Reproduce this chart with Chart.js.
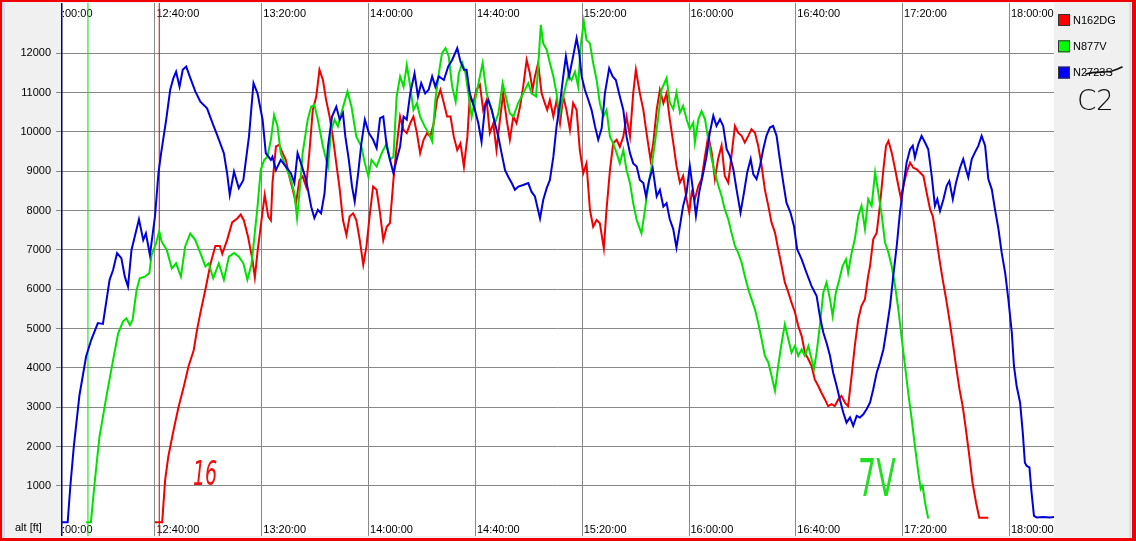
<!DOCTYPE html>
<html>
<head>
<meta charset="utf-8">
<script src="https://cdn.jsdelivr.net/npm/chart.js@4"></script>
<style>
  html, body { margin: 0; padding: 0; background: #f0f0f0; }
  #wrap { width: 1136px; height: 541px; }
</style>
</head>
<body>
<div id="wrap"><canvas id="altChart" width="1136" height="541"></canvas></div>
<script>
// ===== DATA (time = minutes after 12:00:00, alt in ft) =====
const seriesNames = ["N162DG", "N877V", "N2723S"];
const seriesColors = ["rgb(240,0,0)", "rgb(0,225,0)", "rgb(0,0,220)"];
const legendColors = ["#ff0000", "#00ff00", "#0000ff"];

const xTickMinutes = [0, 40, 80, 120, 160, 200, 240, 280, 320, 360];
const xTickLabels = ["12:00:00", "12:40:00", "13:20:00", "14:00:00", "14:40:00", "15:20:00", "16:00:00", "16:40:00", "17:20:00", "18:00:00"];
const yTickValues = [1000, 2000, 3000, 4000, 5000, 6000, 7000, 8000, 9000, 10000, 11000, 12000];

// takeoff marker times: N162DG, N877V, N2723S
const takeoffTimes = [41.6, 14.9, 4.8];

const n162dg = [
  [40.0,80],[42.7,80],[43.8,1150],[45.0,1750],[46.9,2400],[48.8,3000],[50.7,3500],[52.6,4050],[54.5,4450],[55.7,4950],
  [57.0,5400],[58.9,6000],[60.8,6650],[62.6,7100],[64.3,7100],[65.2,6900],[67.0,7250],[68.9,7700],[70.8,7800],[72.1,7900],
  [73.3,7750],[74.8,7350],[76.5,6750],[77.4,6300],[78.4,6950],[79.6,7600],[81.1,8400],[82.4,7850],[83.4,7750],
  [84.0,8700],[85.3,9630],[86.5,9670],[87.8,9460],[89.0,9290],[90.3,8870],[91.6,8530],[92.8,8190],[94.1,8780],[95.3,8870],
  [96.6,8610],[97.8,9460],[99.1,10560],[100.4,10900],[101.6,11580],[102.9,11320],[104.1,10810],[105.4,10390],[106.6,9880],
  [107.9,9200],[109.2,8530],[110.4,7760],[111.7,7380],[112.9,7850],[114.2,7930],[115.4,7760],[116.7,7250],[118.0,6620],
  [119.2,7090],[120.5,7930],[121.7,8610],[123.0,8530],[124.3,7930],[125.5,7250],[126.8,7590],[128.0,7680],[129.3,8780],
  [130.5,9630],[131.8,10390],[133.1,10050],[134.3,9970],[135.6,10220],[136.8,10390],[138.1,9970],[139.3,9460],[140.6,9800],
  [141.9,9970],[143.1,9880],[144.4,10220],[145.6,10810],[146.9,11070],[148.2,10730],[149.4,10390],[150.7,10390],[151.9,9880],
  [153.2,9540],[154.4,9710],[155.7,9120],[157.0,9880],
  [157.9,10900],[159.2,10730],[160.4,11070],[161.7,11200],[162.9,10560],[164.2,10810],[165.4,9970],[166.7,10220],[167.9,9540],
  [169.2,10310],[170.4,10980],[171.7,10310],[172.9,9800],[174.2,10390],[175.4,10220],[176.7,10640],[177.9,11150],[179.2,11830],
  [180.4,11490],[181.4,11070],[182.3,11410],[183.5,11750],[184.8,10980],[186.0,10730],[186.9,10560],[187.9,10810],[189.2,10390],
  [190.4,10810],[191.7,10220],[192.9,10900],[194.1,10560],[195.4,10050],[196.6,10730],[197.9,10560],[199.1,9540],[200.4,8950],
  [201.6,9200],[202.9,8020],[204.1,7590],[205.4,7760],[206.6,7680],[208.1,7040],[209.1,8020],[210.4,9030],[211.6,9710],
  [212.9,9800],[214.1,9620],[215.4,9880],[216.6,10390],[217.9,9880],[219.1,10980],[220.1,11580],[221.6,10980],[222.9,10560],
  [224.1,9970],[225.6,9290],[226.6,9710],[227.9,10560],[229.1,11070],[230.4,10730],[231.6,10980],
  [232.8,10320],[234.1,9730],[235.3,9140],[236.6,8710],[237.8,8880],[239.1,8290],[240.1,7950],[241.0,8460],[242.2,8290],
  [243.5,8630],[244.7,8800],[246.0,9390],[247.2,9900],[248.5,9480],[249.7,8800],[250.9,9310],[252.2,9650],[253.4,8880],
  [254.7,8710],[255.9,9390],[257.2,10150],[258.4,9980],[259.7,9900],[260.9,9730],[262.2,9900],[263.4,10070],[264.7,9980],
  [265.9,9650],[267.2,9140],[268.4,8540],[269.7,8120],[270.9,7700],[272.2,7440],[273.4,7020],[274.7,6590],[275.9,6170],
  [277.2,5920],[278.4,5660],[279.7,5410],[280.9,5070],[282.2,4810],[283.4,4390],[284.7,4220],[285.9,4050],[287.1,3710],
  [288.4,3540],[289.6,3370],[290.9,3200],[292.1,3030],[293.4,3080],[294.6,3030],[295.9,3200],[297.1,3290],[298.4,3120],
  [299.6,3030],[300.9,3800],[302.1,4560],[303.4,5240],[304.6,5580],[305.9,5750],[307.1,6340],[307.8,6590],
  [309.0,7270],[310.3,7440],[311.5,8120],[312.8,9050],[313.8,9650],[314.7,9770],[315.9,9480],[317.2,9050],[318.4,8630],
  [319.3,8330],[320.3,8630],[321.5,8970],[322.8,9220],[324.0,9090],[325.3,9050],[326.5,8970],[327.8,8880],[329.0,8460],
  [330.3,8030],[331.3,7860],[332.5,7360],[333.8,6760],[335.0,6250],[336.3,5750],[337.5,5240],[338.8,4640],[340.0,4050],
  [341.3,3460],[342.5,3030],[343.7,2440],[345.0,1760],[346.2,1080],[347.5,580],[348.7,195],[352.1,195]
];

const n877v = [
  [14.2,80],[16.0,80],[17.5,1150],[19.2,2250],[21.8,3270],[24.3,4200],[26.2,4880],[28.0,5180],[29.3,5260],[30.6,5090],
  [31.6,5220],[33.1,5980],[34.3,6280],[36.2,6320],[37.9,6410],[38.7,6870],[40.4,7170],[41.6,7470],[42.5,7210],[44.4,7000],
  [46.3,6530],[47.9,6660],[49.7,6320],[51.3,7090],[53.2,7420],[55.1,7250],[57.0,6920],[58.9,6580],[60.1,6660],[61.8,6280],
  [63.9,6660],[65.8,6240],[67.7,6830],[69.6,6920],[71.4,6830],[73.1,6660],[74.6,6240],[76.1,6620],[77.1,7250],[78.4,8100],
  [79.6,9030],[80.9,9290],[82.1,9370],[83.4,9800],
  [84.6,10430],[85.9,10140],[87.1,9460],[89.0,9120],[90.9,8780],[92.2,8440],[93.2,7810],[94.1,8440],[95.3,9460],[97.2,10310],
  [98.5,10640],[99.7,10690],[101.0,10310],[102.9,9630],[104.8,9120],[106.0,10050],[107.3,10310],[108.5,10140],[109.8,10480],
  [112.1,11030],[113.6,10640],[115.4,9880],[117.3,9630],[118.6,9200],[119.9,8870],[121.1,9290],[123.0,9120],[124.9,9460],
  [126.8,9710],[128.0,9290],[129.3,9370],[130.5,10900],[131.8,11410],[133.1,11150],[134.3,11700],[135.6,11150],[136.8,10560],
  [138.1,10730],[139.3,10390],[141.0,10140],[142.5,9970],[143.8,9760],[145.0,10810],[146.3,11490],[147.5,12000],[148.8,12130],
  [150.0,11920],[151.3,11150],[152.6,10770],[153.8,11490],[155.1,11750],[156.3,11490],
  [158.6,10390],[160.4,10980],[162.7,11750],[164.2,10980],[166.1,10560],[167.3,10220],[168.6,10470],[170.2,11240],[171.7,10810],
  [172.9,10470],[174.2,10390],[176.0,10730],[177.9,10980],[179.8,11240],[181.0,10980],[182.7,10900],[183.5,11660],[184.5,12720],
  [185.4,12250],[186.7,12090],[187.9,11750],[189.2,11410],[190.4,10980],[191.4,10390],[192.3,10730],[193.5,11070],[194.8,11450],
  [196.0,11320],[197.3,11530],[198.5,11150],[199.4,12170],[200.6,12810],[201.6,12340],[202.9,12250],[204.1,11750],[205.4,11320],
  [206.6,10730],[207.9,10390],[209.1,10560],[210.4,9880],[211.6,9710],[212.9,9460],[214.1,9200],[215.4,9540],[216.6,9030],
  [217.9,8700],[219.1,8190],[220.4,7760],[222.2,7420],[223.5,8020],[224.7,8610],[226.0,9120],[227.2,9710],[228.5,10390],
  [229.7,11070],[231.6,11370],
  [232.8,10750],[234.1,10580],[235.3,11000],[236.6,10490],[237.8,10660],[239.1,10320],[240.3,10070],[241.6,10240],[242.2,9730],
  [243.5,10320],[244.7,10530],[246.0,10320],[247.2,9810],[248.5,9310],[249.7,8970],[251.0,8630],[252.2,8370],[253.4,8030],
  [254.7,7780],[255.9,7440],[257.2,7100],[258.4,6930],[259.7,6680],[260.9,6340],[262.2,6000],[263.4,5750],[264.7,5490],
  [265.9,5150],[267.2,4730],[268.4,4310],[269.7,4140],[270.9,3800],[272.2,3420],[273.4,4050],[274.7,4640],[275.9,5110],
  [277.2,4730],[278.4,4390],[279.7,4560],[280.9,4310],[282.2,4470],[283.4,4310],[284.7,4560],[285.9,4220],[286.8,3970],
  [287.8,4390],[289.0,5070],[290.3,5920],[291.5,6170],[292.8,5750],[293.8,5320],[295.0,5920],[296.3,6250],[297.5,6590],
  [298.8,6760],[299.6,6420],[300.9,6930],[302.1,7270],[303.4,7860],[304.6,8120],[305.9,7530],[307.1,8290],
  [308.4,8120],[309.7,8970],[310.9,8460],[312.2,7870],[313.4,7190],[314.7,6930],[315.9,6590],[317.2,6080],[318.4,5490],
  [319.7,4730],[320.9,4050],[322.1,3370],[323.4,2700],[324.6,2020],[325.9,1340],[326.8,920],[327.5,1000],[328.4,580],[329.6,170]
];

const n2723s = [
  [4.8,80],[7.3,80],[8.3,1000],[9.6,2000],[11.7,3300],[14.2,4290],[16.1,4710],[18.6,5140],[20.5,5120],[23.0,6240],
  [24.3,6490],[25.8,6920],[27.4,6790],[28.7,6320],[29.9,6070],[31.2,7000],[34.0,7780],[35.6,7250],[36.6,7420],[38.1,6870],
  [40.0,7850],[41.3,8950],[42.3,9460],[44.2,10310],[45.7,11070],[46.9,11370],[47.9,11530],[49.2,11150],[50.4,11580],[51.7,11660],
  [53.0,11410],[55.1,11030],[57.0,10770],[59.5,10600],[61.8,10180],[63.3,9920],[65.8,9460],[67.0,8950],[68.0,8400],[69.6,8990],
  [71.4,8570],[73.1,8780],[75.2,9880],[76.9,11240],[78.4,10980],[80.3,10310],[81.5,9460],[83.4,9290],
  [84.0,9370],[85.3,9030],[87.1,9290],[89.0,9120],[90.9,8950],[92.2,8700],[93.4,9460],[94.7,9200],[96.6,8780],[98.5,8100],
  [99.7,7810],[101.0,8020],[102.2,7930],[103.5,8440],[104.8,9630],[106.3,10390],[107.9,10640],[109.2,10310],[110.4,10480],
  [111.3,9880],[112.6,9290],[113.8,8610],[114.8,8230],[116.1,8950],[117.3,9710],[118.6,10310],[120.1,9970],[121.7,9800],
  [123.0,9590],[124.3,10350],[125.5,10390],[126.8,9630],[128.0,9290],[129.3,8950],[130.5,9290],[131.8,9630],[133.1,10390],
  [134.3,10310],[135.6,10980],[137.2,11490],[138.5,10900],[139.7,11240],[141.2,10980],[142.5,11070],[143.8,11410],[145.0,11150],
  [146.3,11410],[148.2,11320],[149.8,11660],[151.3,11830],[153.2,12130],[154.4,11790],[155.7,11580],
  [156.7,11580],[157.9,10980],[159.8,10560],[161.1,10220],[162.3,9750],[163.6,10640],[164.8,10810],[166.1,10560],[167.3,10220],
  [168.6,9880],[169.8,9460],[171.1,9030],[172.3,8860],[173.6,8700],[174.8,8530],[176.1,8610],[177.9,8650],[179.8,8700],
  [181.0,8480],[182.3,8360],[184.2,7800],[185.4,8270],[186.7,8570],[187.9,8780],[189.2,9370],[190.4,10140],[191.7,10730],
  [192.9,11410],[193.9,11920],[195.1,11410],[196.6,11920],[197.9,12380],[198.9,12000],[199.8,11410],[201.0,11070],[202.3,10810],
  [203.5,10560],[204.8,10140],[206.0,9800],[207.3,10090],[208.5,10980],[210.1,11620],[211.4,11410],[212.6,11320],[214.1,10900],
  [215.4,10560],[216.6,9880],[217.9,9460],[219.1,9200],[220.4,9120],[221.6,8780],[222.9,8700],[223.9,8360],[225.1,8780],
  [226.4,9080],[227.9,8360],[229.1,8530],[230.4,8100],[231.6,8190],
  [232.8,7780],[234.1,7530],[235.3,7060],[236.6,7610],[237.8,8120],[239.1,8460],[240.3,9140],[241.6,8460],[242.6,7870],
  [243.8,8460],[245.1,8880],[246.6,9390],[247.8,9980],[249.1,10410],[250.3,10150],[251.6,10320],[252.8,10150],[254.1,9560],
  [255.3,9390],[256.6,9050],[257.8,8540],[259.3,7950],[260.6,8460],[261.8,8970],[263.1,9310],[264.1,8920],[265.3,8800],
  [266.6,9140],[267.8,9560],[269.0,9900],[270.3,10110],[271.5,10150],[272.8,9900],[274.0,9310],[275.3,8710],[276.5,8200],
  [278.0,7950],[279.3,7610],[280.5,7020],[282.2,6760],[284.0,6420],[285.9,6080],[287.8,5830],[289.0,5320],[290.3,4900],
  [291.5,4640],[292.8,4310],[294.0,3880],[295.3,3540],[296.5,3200],[297.8,2860],[299.0,2610],[300.3,2740],[301.5,2530],
  [302.8,2780],[304.0,2740],[305.3,2820],[306.5,2950],[307.8,3120],
  [309.0,3460],[310.3,3880],[311.5,4140],[312.8,4470],[314.0,4980],[315.3,5580],[316.5,6340],[317.8,7100],[319.0,7950],
  [320.3,8630],[321.5,9220],[322.8,9560],[323.8,9650],[324.6,9350],[325.9,9690],[327.1,9900],[328.4,9730],[329.6,9560],
  [330.9,8880],[332.1,8120],[333.0,8290],[334.0,7990],[335.3,8290],[336.5,8630],[337.5,8750],[338.8,8290],[340.0,8710],
  [341.5,9090],[342.7,9310],[343.7,9050],[344.6,8840],[345.9,9310],[347.1,9480],[348.4,9650],[349.6,9900],[350.9,9650],
  [352.1,8800],[353.4,8540],[354.6,8030],[355.9,7530],[357.1,6930],[358.4,6420],[359.6,5750],[360.9,4900],[361.7,4050],
  [362.7,3540],[364.0,3120],[365.0,2360],[365.8,1590],[366.5,1510],[367.5,1470],[368.3,830],[369.2,240],[370.2,200],
  [372.7,210],[375.2,200],[376.7,210]
];

// ===== CHART =====
const X_MIN = 4.8, X_MAX = 376.7;
const Y_MIN = -272, Y_MAX = 13277;
const FONT = '"Liberation Sans", Arial, sans-serif';

const toPoints = arr => arr.map(([t, a]) => ({ x: t, y: a }));

const datasets = [n162dg, n877v, n2723s].map((arr, i) => ({
  label: seriesNames[i],
  data: toPoints(arr),
  borderColor: seriesColors[i],
  borderWidth: 2,
  pointRadius: 0,
  tension: 0,
  order: 3 - i,
}));

// vertical takeoff markers
const markerColors = ["#d00000", "#00e000", "#000080"];
const markerWidths = [1, 1, 3];
takeoffTimes.forEach((t, i) => {
  datasets.push({
    label: "",
    data: [{ x: t, y: Y_MIN }, { x: t, y: Y_MAX }],
    borderColor: markerColors[i],
    borderWidth: markerWidths[i],
    pointRadius: 0,
    order: 10,
  });
});

const framePlugin = {
  id: "frame",
  beforeDraw(chart) {
    const { ctx, chartArea: a, width, height } = chart;
    ctx.save();
    ctx.fillStyle = "#f0f0f0";
    ctx.fillRect(0, 0, width, height);
    ctx.fillStyle = "#ffffff";
    ctx.fillRect(a.left, a.top, a.right - a.left, a.bottom - a.top);
    ctx.fillStyle = "#d4dff0";
    ctx.fillRect(2, 2, 3, height - 4);
    ctx.fillRect(1129, 2, 2, height - 4);
    ctx.restore();
  },
  afterDraw(chart) {
    const { ctx, width, height } = chart;
    ctx.save();
    ctx.fillStyle = "#f00000";
    ctx.fillRect(0, 0, width, 2);
    ctx.fillRect(0, height - 3, width, 3);
    ctx.fillRect(0, 0, 2, height);
    ctx.fillRect(width - 4, 0, 4, height);
    ctx.restore();
  }
};

const timeLabelsPlugin = {
  id: "timeLabels",
  beforeDatasetsDraw(chart) {
    const { ctx, chartArea: a, scales: { x } } = chart;
    ctx.save();
    ctx.beginPath();
    ctx.rect(a.left, a.top, a.right - a.left, a.bottom - a.top);
    ctx.clip();
    ctx.font = "11px " + FONT;
    ctx.fillStyle = "#000";
    ctx.textAlign = "left";
    ctx.textBaseline = "middle";
    xTickMinutes.forEach((m, i) => {
      const px = x.getPixelForValue(m) + 1.5;
      ctx.fillText(xTickLabels[i], px, 14);
      ctx.fillText(xTickLabels[i], px, 530);
    });
    ctx.restore();
    // axis unit where 0 would be
    ctx.save();
    ctx.font = "11px " + FONT;
    ctx.fillStyle = "#000";
    ctx.textBaseline = "middle";
    ctx.fillText("alt [ft]", 15, 528);
    ctx.restore();
  }
};

const legendPlugin = {
  id: "sideLegend",
  afterDraw(chart) {
    const { ctx } = chart;
    ctx.save();
    ctx.font = "11px " + FONT;
    ctx.textBaseline = "middle";
    seriesNames.forEach((name, i) => {
      const y = 14 + i * 26.3;
      ctx.fillStyle = legendColors[i];
      ctx.fillRect(1058, y, 12, 12);
      ctx.strokeStyle = "#333";
      ctx.lineWidth = 1;
      ctx.strokeRect(1058.5, y + 0.5, 11, 11);
      ctx.fillStyle = "#000";
      ctx.fillText(name, 1073, y + 6.5);
    });
    // handwritten strike over the third name
    ctx.strokeStyle = "#111";
    ctx.lineWidth = 1.6;
    ctx.lineCap = "round";
    ctx.beginPath();
    ctx.moveTo(1086, 74);
    ctx.bezierCurveTo(1095, 71, 1104, 73, 1112, 71);
    ctx.quadraticCurveTo(1118, 69, 1122, 67);
    ctx.stroke();
    // handwritten C2
    ctx.fillStyle = "#111";
    ctx.font = '200 28px "DejaVu Sans", sans-serif';
    ctx.textBaseline = "alphabetic";
    ctx.fillText("C", 1077, 110);
    ctx.fillText("2", 1096, 110);
    ctx.restore();
  }
};

const notesPlugin = {
  id: "handNotes",
  afterDatasetsDraw(chart) {
    const { ctx, scales: { x, y } } = chart;
    ctx.save();
    ctx.textBaseline = "alphabetic";
    // "16"
    ctx.save();
    ctx.translate(x.getPixelForValue(54.2), y.getPixelForValue(1024));
    ctx.scale(0.58, 1);
    ctx.fillStyle = "#ee1111";
    ctx.font = 'italic 33px "DejaVu Sans", sans-serif';
    ctx.fillText("16", 0, 0);
    ctx.restore();
    // "7V"
    ctx.save();
    ctx.translate(x.getPixelForValue(303.3), y.getPixelForValue(745));
    ctx.scale(0.55, 1);
    ctx.fillStyle = "#22dd22";
    ctx.font = '52px "DejaVu Sans", sans-serif';
    ctx.fillText("7V", 0, 0);
    ctx.restore();
    ctx.restore();
  }
};

new Chart(document.getElementById("altChart"), {
  type: "line",
  data: { datasets },
  options: {
    responsive: false,
    animation: false,
    devicePixelRatio: 1,
    layout: { padding: { top: 3, right: 82, bottom: 5, left: 0 } },
    plugins: { legend: { display: false }, tooltip: { enabled: false } },
    scales: {
      x: {
        type: "linear",
        min: X_MIN,
        max: X_MAX,
        grid: { color: "#888", lineWidth: 1, drawTicks: false },
        border: { display: false },
        ticks: { display: false },
        afterBuildTicks: s => {
          s.ticks = xTickMinutes.filter(v => v >= X_MIN && v <= X_MAX).map(v => ({ value: v }));
        },
        afterFit: s => { s.height = 0; s.paddingLeft = 0; s.paddingRight = 0; },
      },
      y: {
        type: "linear",
        min: Y_MIN,
        max: Y_MAX,
        grid: { color: "#888", lineWidth: 1, tickLength: 5 },
        border: { display: false },
        ticks: {
          autoSkip: false,
          padding: 5,
          color: "#000",
          font: { family: FONT, size: 11 },
          callback: v => String(v),
        },
        afterBuildTicks: s => { s.ticks = yTickValues.map(v => ({ value: v })); },
        afterFit: s => { s.width = 61; s.paddingTop = 0; s.paddingBottom = 0; },
      }
    }
  },
  plugins: [framePlugin, timeLabelsPlugin, notesPlugin, legendPlugin]
});
</script>
</body>
</html>
